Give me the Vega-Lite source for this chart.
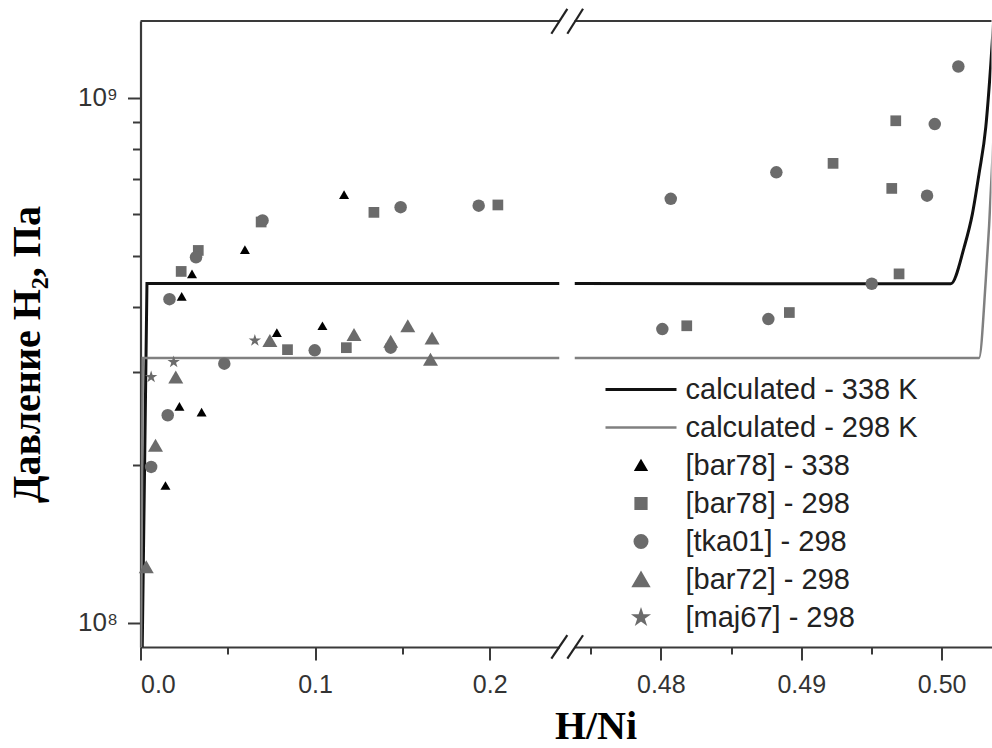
{
  "$schema": "https://vega.github.io/schema/vega-lite/v6.json",
  "background": "white",
  "padding": {"left": 7.5, "top": 7, "right": 0, "bottom": 0},
  "bounds": "flush",
  "config": {
    "view": {"stroke": null},
    "axis": {
      "labelFont": "Liberation Sans", "labelFontSize": 25, "labelColor": "#333333",
      "domainColor": "#3a3a3a", "domainWidth": 2.2, "tickColor": "#3a3a3a", "tickWidth": 2,
      "grid": false, "titleFont": "Liberation Serif", "titleFontWeight": "bold",
      "titleFontSize": 40, "titleColor": "#000000"
    }
  },
  "datasets": {
    "calc": [
      {"panel": "L", "series": "calculated - 338 K", "x": 0.0010, "y": 90000000},
      {"panel": "L", "series": "calculated - 338 K", "x": 0.0037, "y": 443000000},
      {"panel": "L", "series": "calculated - 338 K", "x": 0.2400, "y": 443000000},
      {"panel": "L", "series": "calculated - 298 K", "x": 0.0003, "y": 90000000},
      {"panel": "L", "series": "calculated - 298 K", "x": 0.0013, "y": 319500000},
      {"panel": "L", "series": "calculated - 298 K", "x": 0.2400, "y": 319500000},
      {"panel": "R", "series": "calculated - 338 K", "x": 0.47385, "y": 443000000},
      {"panel": "R", "series": "calculated - 338 K", "x": 0.50065, "y": 442500000},
      {"panel": "R", "series": "calculated - 338 K", "x": 0.50160, "y": 519000000},
      {"panel": "R", "series": "calculated - 338 K", "x": 0.50219, "y": 601000000},
      {"panel": "R", "series": "calculated - 338 K", "x": 0.50266, "y": 716000000},
      {"panel": "R", "series": "calculated - 338 K", "x": 0.50314, "y": 878000000},
      {"panel": "R", "series": "calculated - 338 K", "x": 0.50350, "y": 1159000000},
      {"panel": "R", "series": "calculated - 338 K", "x": 0.50370, "y": 1400000000},
      {"panel": "R", "series": "calculated - 298 K", "x": 0.47385, "y": 319500000},
      {"panel": "R", "series": "calculated - 298 K", "x": 0.50266, "y": 319500000},
      {"panel": "R", "series": "calculated - 298 K", "x": 0.50314, "y": 449000000},
      {"panel": "R", "series": "calculated - 298 K", "x": 0.50338, "y": 571000000},
      {"panel": "R", "series": "calculated - 298 K", "x": 0.50370, "y": 850000000}
    ],
    "pts": [
      {"panel": "L", "series": "[bar78] - 338", "x": 0.0236, "y": 418500000},
      {"panel": "L", "series": "[bar78] - 338", "x": 0.0295, "y": 462000000},
      {"panel": "L", "series": "[bar78] - 338", "x": 0.0598, "y": 514000000},
      {"panel": "L", "series": "[bar78] - 338", "x": 0.1166, "y": 654000000},
      {"panel": "L", "series": "[bar78] - 338", "x": 0.0781, "y": 357000000},
      {"panel": "L", "series": "[bar78] - 338", "x": 0.1042, "y": 368000000},
      {"panel": "L", "series": "[bar78] - 338", "x": 0.0223, "y": 258500000},
      {"panel": "L", "series": "[bar78] - 338", "x": 0.0350, "y": 252000000},
      {"panel": "L", "series": "[bar78] - 338", "x": 0.0143, "y": 182700000},
      {"panel": "L", "series": "[bar78] - 298", "x": 0.0331, "y": 512000000},
      {"panel": "L", "series": "[bar78] - 298", "x": 0.0233, "y": 467000000},
      {"panel": "L", "series": "[bar78] - 298", "x": 0.0691, "y": 580000000},
      {"panel": "L", "series": "[bar78] - 298", "x": 0.1337, "y": 605000000},
      {"panel": "L", "series": "[bar78] - 298", "x": 0.0842, "y": 331400000},
      {"panel": "L", "series": "[bar78] - 298", "x": 0.1179, "y": 334300000},
      {"panel": "L", "series": "[bar78] - 298", "x": 0.2047, "y": 625000000},
      {"panel": "R", "series": "[bar78] - 298", "x": 0.481845, "y": 368000000},
      {"panel": "R", "series": "[bar78] - 298", "x": 0.489152, "y": 390000000},
      {"panel": "R", "series": "[bar78] - 298", "x": 0.496731, "y": 904000000},
      {"panel": "R", "series": "[bar78] - 298", "x": 0.492265, "y": 750000000},
      {"panel": "R", "series": "[bar78] - 298", "x": 0.496446, "y": 672000000},
      {"panel": "R", "series": "[bar78] - 298", "x": 0.496966, "y": 462000000},
      {"panel": "L", "series": "[tka01] - 298", "x": 0.0318, "y": 497000000},
      {"panel": "L", "series": "[tka01] - 298", "x": 0.0166, "y": 413500000},
      {"panel": "L", "series": "[tka01] - 298", "x": 0.0480, "y": 311700000},
      {"panel": "L", "series": "[tka01] - 298", "x": 0.0699, "y": 584000000},
      {"panel": "L", "series": "[tka01] - 298", "x": 0.1490, "y": 619000000},
      {"panel": "L", "series": "[tka01] - 298", "x": 0.0998, "y": 330400000},
      {"panel": "L", "series": "[tka01] - 298", "x": 0.1433, "y": 334300000},
      {"panel": "L", "series": "[tka01] - 298", "x": 0.1937, "y": 623000000},
      {"panel": "L", "series": "[tka01] - 298", "x": 0.0156, "y": 248600000},
      {"panel": "L", "series": "[tka01] - 298", "x": 0.0061, "y": 198200000},
      {"panel": "R", "series": "[tka01] - 298", "x": 0.480705, "y": 642000000},
      {"panel": "R", "series": "[tka01] - 298", "x": 0.488226, "y": 721000000},
      {"panel": "R", "series": "[tka01] - 298", "x": 0.480107, "y": 362700000},
      {"panel": "R", "series": "[tka01] - 298", "x": 0.487657, "y": 379000000},
      {"panel": "R", "series": "[tka01] - 298", "x": 0.501189, "y": 1147000000},
      {"panel": "R", "series": "[tka01] - 298", "x": 0.499509, "y": 891000000},
      {"panel": "R", "series": "[tka01] - 298", "x": 0.498960, "y": 651000000},
      {"panel": "R", "series": "[tka01] - 298", "x": 0.495021, "y": 442500000},
      {"panel": "L", "series": "[bar72] - 298", "x": 0.0741, "y": 345000000},
      {"panel": "L", "series": "[bar72] - 298", "x": 0.1223, "y": 354300000},
      {"panel": "L", "series": "[bar72] - 298", "x": 0.1433, "y": 343700000},
      {"panel": "L", "series": "[bar72] - 298", "x": 0.1531, "y": 368000000},
      {"panel": "L", "series": "[bar72] - 298", "x": 0.1670, "y": 348700000},
      {"panel": "L", "series": "[bar72] - 298", "x": 0.1661, "y": 317700000},
      {"panel": "L", "series": "[bar72] - 298", "x": 0.0202, "y": 294000000},
      {"panel": "L", "series": "[bar72] - 298", "x": 0.0086, "y": 218000000},
      {"panel": "L", "series": "[bar72] - 298", "x": 0.0033, "y": 128000000},
      {"panel": "L", "series": "[maj67] - 298", "x": 0.0655, "y": 345000000},
      {"panel": "L", "series": "[maj67] - 298", "x": 0.0190, "y": 313900000},
      {"panel": "L", "series": "[maj67] - 298", "x": 0.0061, "y": 294000000}
    ],
    "brk": [
      {"x": 0.472201, "x2": 0.473340, "y": 1324000000, "y2": 1477000000},
      {"x": 0.473340, "x2": 0.474458, "y": 1324000000, "y2": 1477000000},
      {"x": 0.472201, "x2": 0.473340, "y": 85500000, "y2": 94760000},
      {"x": 0.473340, "x2": 0.474458, "y": 85500000, "y2": 94760000}
    ],
    "frame": [{"edge": "top", "y": 1400000000}]
  },
  "spacing": 15,
  "resolve": {"scale": {"x": "independent", "y": "shared", "color": "shared", "shape": "shared", "size": "shared", "strokeWidth": "shared"}},
  "hconcat": [
    {
      "width": 419,
      "height": 626,
      "layer": [
        {
          "data": {"name": "calc"},
          "transform": [{"filter": "datum.panel == 'L'"}],
          "mark": {"type": "line", "clip": true},
          "encoding": {
            "x": {"field": "x", "type": "quantitative",
              "scale": {"domain": [0, 0.24], "nice": false, "zero": false},
              "axis": {
                "values": [0, 0.05, 0.1, 0.15, 0.2],
                "labelExpr": "(datum.value == 0.05 || datum.value == 0.15) ? '' : format(datum.value, '.1f')",
                "tickSize": {"condition": {"test": "datum.value == 0.05 || datum.value == 0.15", "value": 7}, "value": 13},
                "labelPadding": 12,
                "title": "H/Ni", "titleX": 455, "titleY": 91, "titleAlign": "center", "titleBaseline": "alphabetic"
              }},
            "y": {"field": "y", "type": "quantitative",
              "scale": {"type": "log", "domain": [90000000, 1400000000], "nice": false},
              "axis": {
                "values": [100000000, 200000000, 300000000, 400000000, 500000000, 600000000, 700000000, 800000000, 900000000, 1000000000],
                "labelExpr": "datum.value == 100000000 ? '10⁸' : (datum.value == 1000000000 ? '10⁹' : '')",
                "tickSize": {"condition": {"test": "datum.value == 100000000 || datum.value == 1000000000", "value": 13}, "value": 8},
                "labelPadding": 10, "labelFontSize": 26,
                "title": "Давление H₂, Па", "titleX": -101, "titleY": 333, "titleAlign": "center", "titleBaseline": "alphabetic", "titleAngle": 270
              }},
            "color": {"field": "series", "type": "nominal",
              "scale": {"domain": ["calculated - 338 K", "calculated - 298 K", "[bar78] - 338", "[bar78] - 298", "[tka01] - 298", "[bar72] - 298", "[maj67] - 298"],
                        "range": ["#111111", "#808080", "#000000", "#6b6b6b", "#6b6b6b", "#6b6b6b", "#6b6b6b"]},
              "legend": {
                "title": null, "orient": "none", "legendX": 486, "legendY": 354, "padding": 0,
                "labelFont": "Liberation Sans", "labelFontSize": 29, "labelColor": "#222222", "labelLimit": 500,
                "rowPadding": 8, "symbolSize": 100, "symbolStrokeWidth": 1.5, "labelOffset": 30,
                "encode": {"symbols": {"update": {
                  "shape": {"scale": "shape", "field": "value"},
                  "fill": {"signal": "indexof(['calculated - 338 K','calculated - 298 K'], datum.value) >= 0 ? 'transparent' : scale('color', datum.value)"},
                  "stroke": {"signal": "indexof(['calculated - 338 K','calculated - 298 K'], datum.value) >= 0 ? scale('color', datum.value) : 'transparent'"},
                  "strokeWidth": {"signal": "datum.value == 'calculated - 338 K' ? 3 : 2.5"},
                  "opacity": {"value": 1}
                }}}
              }},
            "strokeWidth": {"field": "series", "type": "nominal",
              "scale": {"type": "ordinal", "domain": ["calculated - 338 K", "calculated - 298 K"], "range": [3, 2.5]}, "legend": null},
            "detail": {"field": "series"}
          }
        },
        {
          "data": {"name": "pts"},
          "transform": [{"filter": "datum.panel == 'L'"}],
          "mark": {"type": "point", "filled": true, "opacity": 1, "strokeWidth": 0},
          "encoding": {
            "x": {"field": "x", "type": "quantitative", "scale": {"domain": [0, 0.24], "nice": false, "zero": false}},
            "y": {"field": "y", "type": "quantitative", "scale": {"type": "log", "domain": [90000000, 1400000000], "nice": false}},
            "color": {"field": "series", "type": "nominal",
              "scale": {"domain": ["calculated - 338 K", "calculated - 298 K", "[bar78] - 338", "[bar78] - 298", "[tka01] - 298", "[bar72] - 298", "[maj67] - 298"],
                        "range": ["#111111", "#808080", "#000000", "#6b6b6b", "#6b6b6b", "#6b6b6b", "#6b6b6b"]}},
            "shape": {"field": "series", "type": "nominal",
              "scale": {"domain": ["calculated - 338 K", "calculated - 298 K", "[bar78] - 338", "[bar78] - 298", "[tka01] - 298", "[bar72] - 298", "[maj67] - 298"],
                        "range": ["M-7.1,0H7.1", "M-7.1,0H7.1", "triangle-up", "square", "circle", "triangle-up", "M0,-1L0.2245,-0.309L0.9511,-0.309L0.3633,0.118L0.5878,0.809L0,0.382L-0.5878,0.809L-0.3633,0.118L-0.9511,-0.309L-0.2245,-0.309Z"]},
              "legend": {"title": null}},
            "size": {"field": "series", "type": "nominal",
              "scale": {"type": "ordinal", "domain": ["calculated - 338 K", "calculated - 298 K", "[bar78] - 338", "[bar78] - 298", "[tka01] - 298", "[bar72] - 298", "[maj67] - 298"],
                        "range": [100, 100, 100, 115, 156, 225, 170]},
              "legend": null}
          }
        },
        {
          "data": {"name": "frame"},
          "mark": {"type": "rule", "color": "#3a3a3a", "strokeWidth": 2.2},
          "encoding": {"y": {"field": "y", "type": "quantitative", "scale": {"type": "log", "domain": [90000000, 1400000000], "nice": false}}}
        }
      ]
    },
    {
      "width": 417,
      "height": 626,
      "layer": [
        {
          "data": {"name": "calc"},
          "transform": [{"filter": "datum.panel == 'R'"}],
          "mark": {"type": "line", "clip": true, "interpolate": "monotone"},
          "encoding": {
            "x": {"field": "x", "type": "quantitative",
              "scale": {"domain": [0.47385, 0.50355], "nice": false, "zero": false},
              "axis": {
                "values": [0.475, 0.48, 0.485, 0.49, 0.495, 0.5],
                "labelExpr": "(datum.value == 0.475 || datum.value == 0.485 || datum.value == 0.495) ? '' : format(datum.value, '.2f')",
                "tickSize": {"condition": {"test": "datum.value == 0.475 || datum.value == 0.485 || datum.value == 0.495", "value": 7}, "value": 13},
                "labelPadding": 12,
                "title": null
              }},
            "y": {"field": "y", "type": "quantitative", "scale": {"type": "log", "domain": [90000000, 1400000000], "nice": false}, "axis": null},
            "color": {"field": "series", "type": "nominal",
              "scale": {"domain": ["calculated - 338 K", "calculated - 298 K", "[bar78] - 338", "[bar78] - 298", "[tka01] - 298", "[bar72] - 298", "[maj67] - 298"],
                        "range": ["#111111", "#808080", "#000000", "#6b6b6b", "#6b6b6b", "#6b6b6b", "#6b6b6b"]}},
            "strokeWidth": {"field": "series", "type": "nominal",
              "scale": {"type": "ordinal", "domain": ["calculated - 338 K", "calculated - 298 K"], "range": [3, 2.5]}, "legend": null},
            "detail": {"field": "series"}
          }
        },
        {
          "data": {"name": "pts"},
          "transform": [{"filter": "datum.panel == 'R'"}],
          "mark": {"type": "point", "filled": true, "opacity": 1, "strokeWidth": 0},
          "encoding": {
            "x": {"field": "x", "type": "quantitative", "scale": {"domain": [0.47385, 0.50355], "nice": false, "zero": false}},
            "y": {"field": "y", "type": "quantitative", "scale": {"type": "log", "domain": [90000000, 1400000000], "nice": false}, "axis": null},
            "color": {"field": "series", "type": "nominal",
              "scale": {"domain": ["calculated - 338 K", "calculated - 298 K", "[bar78] - 338", "[bar78] - 298", "[tka01] - 298", "[bar72] - 298", "[maj67] - 298"],
                        "range": ["#111111", "#808080", "#000000", "#6b6b6b", "#6b6b6b", "#6b6b6b", "#6b6b6b"]}},
            "shape": {"field": "series", "type": "nominal",
              "scale": {"domain": ["calculated - 338 K", "calculated - 298 K", "[bar78] - 338", "[bar78] - 298", "[tka01] - 298", "[bar72] - 298", "[maj67] - 298"],
                        "range": ["M-7.1,0H7.1", "M-7.1,0H7.1", "triangle-up", "square", "circle", "triangle-up", "M0,-1L0.2245,-0.309L0.9511,-0.309L0.3633,0.118L0.5878,0.809L0,0.382L-0.5878,0.809L-0.3633,0.118L-0.9511,-0.309L-0.2245,-0.309Z"]}},
            "size": {"field": "series", "type": "nominal",
              "scale": {"type": "ordinal", "domain": ["calculated - 338 K", "calculated - 298 K", "[bar78] - 338", "[bar78] - 298", "[tka01] - 298", "[bar72] - 298", "[maj67] - 298"],
                        "range": [100, 100, 100, 115, 156, 225, 170]},
              "legend": null}
          }
        },
        {
          "data": {"name": "frame"},
          "mark": {"type": "rule", "color": "#3a3a3a", "strokeWidth": 2.2},
          "encoding": {"y": {"field": "y", "type": "quantitative", "scale": {"type": "log", "domain": [90000000, 1400000000], "nice": false}, "axis": null}}
        },
        {
          "data": {"name": "brk"},
          "mark": {"type": "rule", "color": "#222222", "strokeWidth": 2.2, "clip": false},
          "encoding": {
            "x": {"field": "x", "type": "quantitative", "scale": {"domain": [0.47385, 0.50355], "nice": false, "zero": false}},
            "x2": {"field": "x2"},
            "y": {"field": "y", "type": "quantitative", "scale": {"type": "log", "domain": [90000000, 1400000000], "nice": false}, "axis": null},
            "y2": {"field": "y2"}
          }
        }
      ]
    }
  ]
}
